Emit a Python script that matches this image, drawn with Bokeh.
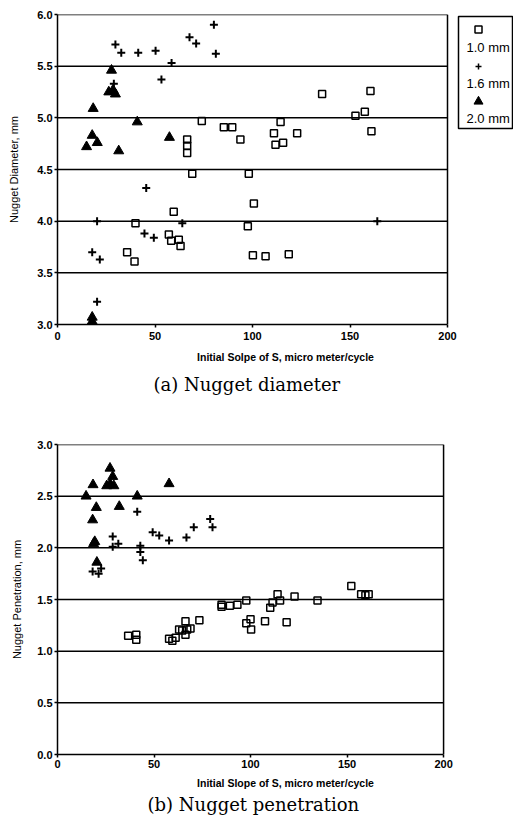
from bokeh.plotting import figure
from bokeh.layouts import column
from bokeh.models import Range1d, FixedTicker, NumeralTickFormatter, Title, Label
from bokeh.embed import file_html
from bokeh.resources import INLINE

# ---------------- data ----------------
legend_labels = ["1.0 mm", "1.6 mm", "2.0 mm"]
x_ticks = [0, 50, 100, 150, 200]
y_ticks_a = [3.0, 3.5, 4.0, 4.5, 5.0, 5.5, 6.0]
y_ticks_b = [0.0, 0.5, 1.0, 1.5, 2.0, 2.5, 3.0]

# (a) Nugget diameter
a_10_x = [74.0, 66.5, 66.5, 66.5, 69.1, 85.3, 89.6, 93.8, 98.1, 114.4, 111.0, 111.8, 115.7,
          122.9, 135.7, 160.5, 152.8, 157.6, 161.0, 40.0, 59.6, 35.7, 39.5, 57.1, 58.3, 62.2,
          63.1, 100.7, 97.6, 100.2, 106.7, 118.6]
a_10_y = [4.97, 4.79, 4.73, 4.66, 4.46, 4.91, 4.91, 4.79, 4.46, 4.96, 4.85, 4.74, 4.76,
          4.85, 5.23, 5.26, 5.02, 5.06, 4.87, 3.98, 4.09, 3.70, 3.61, 3.87, 3.81, 3.82,
          3.76, 4.17, 3.95, 3.67, 3.66, 3.68]
a_16_x = [29.7, 32.7, 41.4, 50.3, 53.3, 58.5, 67.7, 71.1, 80.2, 81.2, 28.9, 45.5, 20.3,
          44.6, 49.4, 17.8, 21.7, 20.3, 64.0, 164.0]
a_16_y = [5.71, 5.63, 5.63, 5.65, 5.37, 5.53, 5.78, 5.72, 5.90, 5.62, 5.33, 4.32, 4.00,
          3.88, 3.84, 3.70, 3.63, 3.22, 3.98, 4.00]
a_20_x = [27.7, 26.3, 29.7, 28.5, 18.3, 40.9, 17.8, 14.9, 20.4, 31.4, 57.4, 17.8, 17.8, 17.8]
a_20_y = [5.46, 5.25, 5.23, 5.27, 5.09, 4.96, 4.83, 4.72, 4.76, 4.68, 4.81, 3.00, 3.03, 3.07]

# (b) Nugget penetration
b_10_x = [36.6, 40.8, 40.8, 57.8, 59.5, 61.2, 63.0, 64.6, 67.2, 68.9, 66.3, 66.3, 73.5,
          85.0, 85.0, 89.3, 93.2, 97.8, 97.8, 100.0, 100.3, 107.5, 110.2, 111.4, 114.0,
          115.3, 118.7, 122.8, 134.7, 152.2, 157.3, 159.5, 161.2]
b_10_y = [1.15, 1.16, 1.11, 1.12, 1.10, 1.13, 1.21, 1.20, 1.21, 1.22, 1.16, 1.29, 1.30,
          1.43, 1.45, 1.44, 1.45, 1.49, 1.27, 1.31, 1.21, 1.29, 1.42, 1.47, 1.55,
          1.49, 1.28, 1.53, 1.49, 1.63, 1.55, 1.54, 1.55]
b_16_x = [18.2, 21.3, 22.6, 28.6, 28.6, 31.5, 41.3, 42.9, 42.9, 44.2, 49.3, 52.7, 57.8,
          66.8, 70.6, 79.1, 80.3]
b_16_y = [1.77, 1.75, 1.80, 2.11, 2.01, 2.04, 2.35, 2.02, 1.96, 1.88, 2.15, 2.12, 2.07,
          2.10, 2.20, 2.28, 2.20]
b_20_x = [14.8, 18.4, 20.1, 18.2, 18.7, 19.3, 20.4, 27.2, 28.6, 25.5, 27.3, 29.2, 32.0,
          41.3, 57.8]
b_20_y = [2.50, 2.61, 2.39, 2.27, 2.04, 2.06, 1.86, 2.77, 2.69, 2.60, 2.62, 2.60, 2.40,
          2.50, 2.62]

SANS = "Liberation Sans"
SERIF = "DejaVu Serif"
FIG_W = 513


def make_chart(height, bl, bt, bb, plot_px_w, yticks, ylabel, xlabel, caption,
               ylab_standoff, tick_standoff, xlab_standoff, cap_standoff, cap_offset,
               series, legend_box):
    frame_w = FIG_W - bl
    frame_h = height - bt - bb
    x0, x1 = x_ticks[0], x_ticks[-1]
    y0, y1 = yticks[0], yticks[-1]
    # extend x range so that the chart box ends at plot_px_w, leaving room for the legend
    x_end = x0 + (x1 - x0) * frame_w / plot_px_w
    p = figure(width=FIG_W, height=height, x_range=Range1d(x0, x_end), y_range=Range1d(y0, y1),
               toolbar_location=None, output_backend="svg",
               min_border_left=bl, min_border_top=bt, min_border_right=0, min_border_bottom=bb)
    p.outline_line_color = None
    p.xgrid.visible = False
    p.ygrid.visible = False
    p.xaxis.ticker = FixedTicker(ticks=x_ticks)
    p.xaxis.bounds = (x0, x1)
    p.yaxis.ticker = FixedTicker(ticks=yticks)
    p.yaxis.formatter = NumeralTickFormatter(format="0.0")
    for ax in (p.xaxis[0], p.yaxis[0]):
        ax.axis_line_color = "black"
        ax.axis_line_width = 1.5
        ax.major_tick_line_color = "black"
        ax.major_tick_line_width = 1.5
        ax.major_tick_in = 0
        ax.major_tick_out = 3
        ax.minor_tick_line_color = None
        ax.major_label_text_font = SANS
        ax.major_label_text_font_style = "bold"
        ax.major_label_text_font_size = "11px"
        ax.major_label_text_color = "black"
        ax.major_label_standoff = 2
        ax.axis_label_text_color = "black"
        ax.axis_label_text_font = SANS
    p.xaxis.major_label_standoff = tick_standoff
    p.xaxis.axis_label = xlabel
    p.xaxis.axis_label_text_font_style = "bold"
    p.xaxis.axis_label_text_font_size = "10.5px"
    p.xaxis.axis_label_standoff = xlab_standoff
    p.yaxis.axis_label = ylabel
    p.yaxis.axis_label_text_font_style = "normal"
    p.yaxis.axis_label_text_font_size = "11px"
    p.yaxis.axis_label_standoff = ylab_standoff
    t = Title(text=caption, align="left", offset=cap_offset, text_font=SERIF,
              text_font_size="18px", text_font_style="normal", text_color="black",
              standoff=cap_standoff)
    p.add_layout(t, "below")

    # horizontal rules at the y ticks (and the box top) plus the box's right side
    gy = yticks[1:]
    p.segment(x0=[x0] * len(gy), y0=gy, x1=[x1] * len(gy), y1=gy,
              line_color="black", line_width=1.5)
    p.segment(x0=[x1], y0=[y0], x1=[x1], y1=[y1], line_color="black", line_width=1.5)

    # data series
    sx, sy, cx, cy, tx, ty = series
    p.scatter(sx, sy, marker="square", size=7, fill_color=None, line_color="black", line_width=1.5)
    p.scatter(cx, cy, marker="cross", size=8, line_color="black", line_width=2)
    p.scatter(tx, ty, marker="triangle", size=10, fill_color="black", line_color="black")

    # legend drawn in the space right of the chart box (pixel offsets -> data units)
    ux = (x_end - x0) / frame_w
    uy = (y1 - y0) / frame_h

    def dx(px):
        return x0 + (px - bl) * ux

    def dy(py):
        return y1 - (py - bt) * uy

    lb_l, lb_t, lb_r, lb_b = legend_box
    p.quad(left=[dx(lb_l)], right=[dx(lb_r)], top=[dy(lb_t)], bottom=[dy(lb_b)],
           fill_color=None, line_color="black", line_width=1.5)
    gx = dx(lb_l + 20)
    p.scatter([gx], [dy(lb_t + 13)], marker="square", size=7, fill_color=None,
              line_color="black", line_width=1.5)
    p.scatter([gx], [dy(lb_t + 50)], marker="cross", size=6, line_color="black", line_width=1.5)
    p.scatter([gx], [dy(lb_t + 85)], marker="triangle", size=9, fill_color="black",
              line_color="black")
    for lab, off in zip(legend_labels, (31, 67, 102)):
        p.add_layout(Label(x=dx(lb_l + 8), y=dy(lb_t + off), text=lab, text_font=SANS,
                           text_font_size="13px", text_baseline="middle", text_align="left",
                           text_color="black"))
    return p


pa = make_chart(410, 57, 14, 86, 390, y_ticks_a, "Nugget Diameter, mm",
                "Initial Solpe of S, micro meter/cycle", "(a) Nugget diameter",
                14, 4, 8, 13, 96,
                (a_10_x, a_10_y, a_16_x, a_16_y, a_20_x, a_20_y),
                (458, 16, 512, 128))

pb = make_chart(410, 50, 34, 66, 392, y_ticks_b, "Nugget Penetration, mm",
                "Initial Slope of S, micro meter/cycle", "(b) Nugget penetration",
                11, 2, 6, 1, 90,
                (b_10_x, b_10_y, b_16_x, b_16_y, b_20_x, b_20_y),
                (452, 445, 512, 557))

layout = column(pa, pb)
open("out.html", "w").write(file_html(layout, INLINE))
